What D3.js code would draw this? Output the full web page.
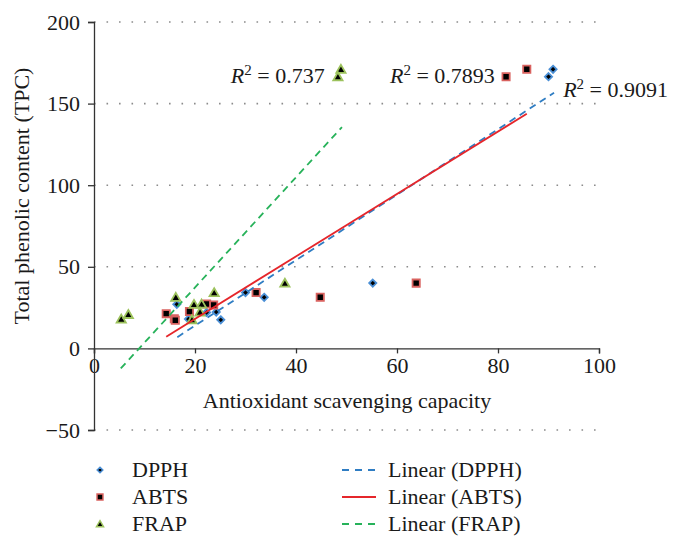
<!DOCTYPE html>
<html><head><meta charset="utf-8">
<script src="https://cdn.jsdelivr.net/npm/d3@7"></script>
<style>
body{margin:0;background:#fff}
svg text{font-family:"Liberation Serif","Times New Roman",serif;fill:#1a1a1a}
</style>
</head><body>
<svg id="c" width="683" height="548"></svg>
<script>
// ---- data ----
const seriesNames = ["DPPH", "ABTS", "FRAP"];
const dpphX = [90.9, 90.0, 55.2, 30.0, 33.7, 16.4, 24.2, 22.3, 25.1, 18.7];
const dpphY = [171, 166.5, 40, 34.2, 31.3, 27.0, 22.3, 22.0, 17.5, 18.0];
const abtsX = [85.7, 81.6, 63.8, 32.1, 44.8, 22.3, 23.7, 18.9, 14.3, 15.9, 16.1];
const abtsY = [171, 166.5, 40, 34.2, 31.3, 27.2, 26.6, 22.6, 21.3, 18.2, 17.2];
const frapX = [48.9, 48.3, 37.8, 23.8, 16.2, 19.8, 21.3, 21.0, 19.4, 5.4, 6.8];
const frapY = [171, 166.5, 40, 34.2, 31.3, 27.0, 27.2, 22.3, 17.6, 18.0, 20.8];

const trendNames = ["Linear (DPPH)", "Linear (ABTS)", "Linear (FRAP)"];
const dpphTrendX = [16.5, 91.1], dpphTrendY = [6.9, 156.6];
const abtsTrendX = [14.3, 85.7], abtsTrendY = [7.2, 143.8];
const frapTrendX = [5.3, 49.1],  frapTrendY = [-12.3, 135.6];

const r2Values = ["0.737", "0.7893", "0.9091"];
const r2X = [27.1, 58.6, 92.9];
const r2Y = [162.6, 162.6, 154.0];

const xTicks = [0, 20, 40, 60, 80, 100];
const yTicks = [-50, 0, 50, 100, 150, 200];
const xTitle = "Antioxidant scavenging capacity";
const yTitle = "Total phenolic content (TPC)";

// ---- drawing ----
const svg = d3.select("#c");
const FS = 22;
const x = d3.scaleLinear().domain([0, 100]).range([94, 599]);
const y = d3.scaleLinear().domain([-50, 200]).range([430, 22]);

const markerStyle = {
  DPPH: {fill: "#000", stroke: "#4a8fd6"},
  ABTS: {fill: "#000", stroke: "#d9625f"},
  FRAP: {fill: "#000", stroke: "#9cc25c"}
};
const lineStyle = [
  {stroke: "#2f7dc3", dash: "7,5"},
  {stroke: "#e5262b", dash: null},
  {stroke: "#27b25a", dash: "7,5"}
];
function shapePath(name, s) {
  if (name === "DPPH") return `M0,${-s}L${s},0L0,${s}L${-s},0Z`;
  if (name === "ABTS") { const h = s * 0.95; return `M${-h},${-h}H${h}V${h}H${-h}Z`; }
  const w = s * 1.1; return `M0,${-s * 1.05}L${w},${s * 0.85}L${-w},${s * 0.85}Z`;
}

// gridlines
svg.append("g").selectAll("line").data(yTicks.filter(d => d !== 0)).join("line")
  .attr("x1", x(0)).attr("x2", x(100))
  .attr("y1", d => y(d)).attr("y2", d => y(d))
  .attr("stroke", "#8c8c8c").attr("stroke-width", 1.6)
  .attr("stroke-dasharray", "1.6,10.9");

// axes
const gx = svg.append("g").attr("transform", `translate(0,${y(0)})`)
  .call(d3.axisBottom(x).tickValues(xTicks).tickSizeOuter(0).tickSize(5).tickPadding(4));
const gy = svg.append("g").attr("transform", `translate(${x(0)},0)`)
  .call(d3.axisLeft(y).tickValues(yTicks).tickSizeOuter(0).tickSize(6).tickPadding(8));
[gx, gy].forEach(g => {
  g.select(".domain").attr("stroke", "#333").attr("stroke-width", 1.3);
  g.selectAll(".tick line").attr("stroke", "#333").attr("stroke-width", 1.3);
  g.selectAll(".tick text").attr("font-size", FS)
    .attr("font-family", "Liberation Serif, Times New Roman, serif").attr("fill", "#1a1a1a");
});

// axis titles
svg.append("text").attr("x", 347).attr("y", 408)
  .attr("text-anchor", "middle").attr("font-size", FS).text(xTitle);
svg.append("text").attr("transform", `translate(29,${196}) rotate(-90)`)
  .attr("text-anchor", "middle").attr("font-size", FS).text(yTitle);

// points
const seriesData = [
  {name: "DPPH", xs: dpphX, ys: dpphY},
  {name: "ABTS", xs: abtsX, ys: abtsY},
  {name: "FRAP", xs: frapX, ys: frapY}
];
const sizes = {DPPH: 3.6, ABTS: 3.8, FRAP: 4.2};
seriesData.forEach(s => {
  svg.append("g").selectAll("path").data(s.xs.map((v, i) => [v, s.ys[i]])).join("path")
    .attr("transform", d => `translate(${x(d[0])},${y(d[1])})`)
    .attr("d", shapePath(s.name, sizes[s.name]))
    .attr("fill", markerStyle[s.name].fill)
    .attr("stroke", markerStyle[s.name].stroke)
    .attr("stroke-width", 1.8).attr("stroke-linejoin", "miter");
});

// trend lines
const trends = [
  {xs: dpphTrendX, ys: dpphTrendY},
  {xs: abtsTrendX, ys: abtsTrendY},
  {xs: frapTrendX, ys: frapTrendY}
];
const line = d3.line().x(d => x(d[0])).y(d => y(d[1]));
trends.forEach((t, i) => {
  svg.append("path").datum(t.xs.map((v, j) => [v, t.ys[j]]))
    .attr("d", line).attr("fill", "none")
    .attr("stroke", lineStyle[i].stroke).attr("stroke-width", 1.8)
    .attr("stroke-dasharray", lineStyle[i].dash);
});

// R² labels
r2Values.forEach((v, i) => {
  const t = svg.append("text").attr("x", x(r2X[i])).attr("y", y(r2Y[i])).attr("font-size", FS);
  t.append("tspan").attr("font-style", "italic").text("R");
  t.append("tspan").attr("font-size", 15).attr("dy", -8).text("2");
  t.append("tspan").attr("dy", 8).text(" = " + v);
});

// legend
const legY = [470, 497, 524];
const legSizes = {DPPH: 2.8, ABTS: 3.1, FRAP: 3.2};
seriesNames.forEach((n, i) => {
  svg.append("path").attr("transform", `translate(100,${legY[i]})`)
    .attr("d", shapePath(n, legSizes[n]))
    .attr("fill", markerStyle[n].fill).attr("stroke", markerStyle[n].stroke).attr("stroke-width", 1.5);
  svg.append("text").attr("x", 132).attr("y", legY[i] + 7).attr("font-size", FS).text(n);
});
trendNames.forEach((n, i) => {
  svg.append("line").attr("x1", 342).attr("x2", 376).attr("y1", legY[i]).attr("y2", legY[i])
    .attr("stroke", lineStyle[i].stroke).attr("stroke-width", 1.8)
    .attr("stroke-dasharray", lineStyle[i].dash ? "7,6" : null);
  svg.append("text").attr("x", 388).attr("y", legY[i] + 7).attr("font-size", FS).text(n);
});
</script>
</body></html>
